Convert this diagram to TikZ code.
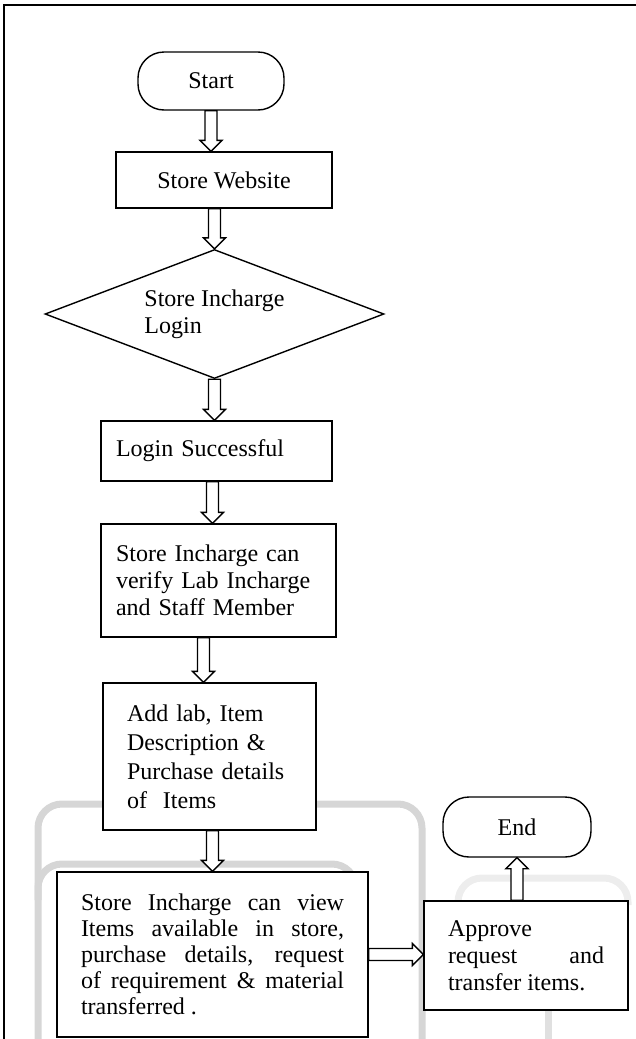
\documentclass[tikz,border=0pt]{standalone}
\usepackage{fontspec}
\setmainfont{Liberation Serif}
\usetikzlibrary{shapes.geometric,calc}

\begin{document}
\begin{tikzpicture}[x=0.5pt,y=-0.5pt,
  font=\fontsize{12}{13.5}\selectfont,
  box/.style={draw, fill=white, line width=0.7pt, align=left, inner ysep=0pt},
  term/.style={draw, fill=white, line width=0.7pt, rounded corners=13pt},
  wm/.style={draw=black!16, line width=3.5pt, rounded corners=12pt},
  hollow/.style={draw, fill=white, line width=0.7pt, line join=miter,
    to path={let \p1=(\tikztostart), \p2=(\tikztotarget),
      \p3=($(\p2)!5.5pt!(\p1)$) in
      ($(\p1)!3pt!90:(\p2)$) -- ($(\p3)!3pt!90:(\p2)$) -- ($(\p3)!5.5pt!90:(\p2)$)
      -- (\p2) -- ($(\p3)!5.5pt!-90:(\p2)$) -- ($(\p3)!3pt!-90:(\p2)$)
      -- ($(\p1)!3pt!-90:(\p2)$) -- cycle}}]
\useasboundingbox (0,0) rectangle (636,1039);
% faint background marks
\draw[wm] (38,1039) -- (38,804) -- (422,804) -- (422,1039);
\draw[wm] (38,900) -- (38,864) -- (356,864) -- (356,890);
\draw[wm, draw=black!7] (458,905) -- (458,878) -- (628,878) -- (628,905);
\draw[wm, draw=black!12] (548,1005) -- (548,1039);
% frame
\draw[line width=1pt] (4,1039) -- (4,5) -- (636,5);
% steps
\node[term, minimum width=73pt, minimum height=29pt] (start) at (211,81) {Start};
\node[box, minimum width=108pt, minimum height=28pt] (web) at (224,180) {Store Website};
\node[box, diamond, aspect=2.6, minimum width=169.5pt, minimum height=64.5pt] (login) at (214.5,314) {Store Incharge\\Login};
\node[box, text width=100.5pt, inner xsep=7.5pt, minimum height=30pt] (ok) at (216.5,451) {Login Successful};
\node[box, text width=102.5pt, inner xsep=7.5pt, minimum height=56.5pt] (verify) at (218.5,580.5) {Store Incharge can\\verify Lab Incharge\\and Staff Member};
\node[box, text width=82.5pt, inner xsep=12pt, minimum height=73.5pt, font=\fontsize{12}{14.5}\selectfont] (addlab) at (209.5,756.5) {Add lab, Item\\Description \&\\Purchase details\\of~~Items};
\node[box, align=justify, text width=131.5pt, inner xsep=12pt, minimum height=82.5pt, font=\fontsize{12}{13}\selectfont] (view) at (212.5,954.5) {Store Incharge can view\linebreak Items available in store,\linebreak purchase details, request\linebreak of requirement \& material\linebreak transferred .};
\node[box, align=justify, text width=78pt, inner xsep=12pt, minimum height=54.5pt] (approve) at (526,955.5) {Approve\\request and\linebreak transfer items.};
\node[term, minimum width=74pt, minimum height=30pt] (end) at (517,827) {End};
% arrows
\draw[hollow] (start.south) to (start.south |- web.north);
\draw[hollow] (login.north |- web.south) to (login.north);
\draw[hollow] (login.south) to (login.south |- ok.north);
\draw[hollow] ([xshift=-2pt]ok.south) to ([xshift=-2pt]ok.south |- verify.north);
\draw[hollow] ([xshift=-3pt]addlab.north |- verify.south) to ([xshift=-3pt]addlab.north);
\draw[hollow] (view.north |- addlab.south) to (view.north);
\draw[hollow] (view.east) to (view.east -| approve.west);
\draw[hollow] (end.south |- approve.north) to (end.south);
\end{tikzpicture}
\end{document}
